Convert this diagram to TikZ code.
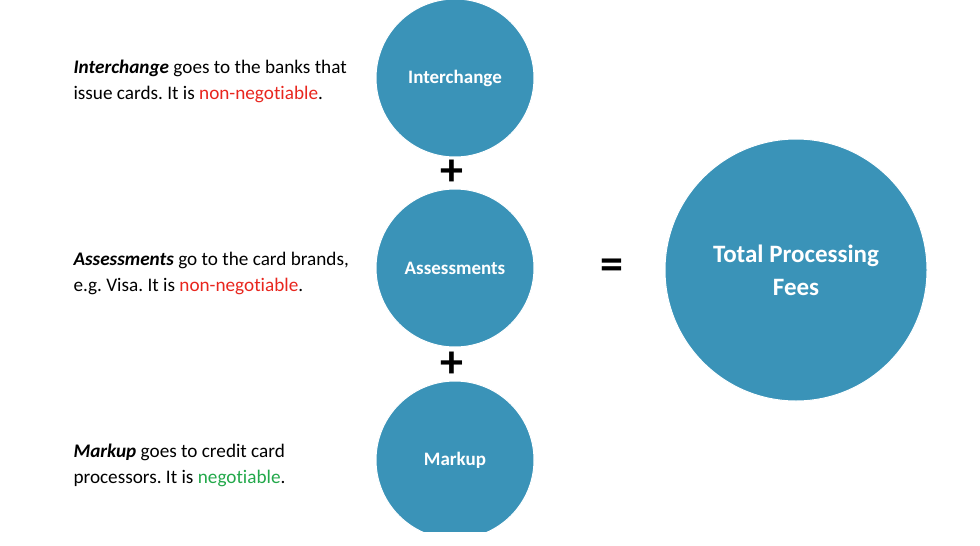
\documentclass[tikz,border=0pt]{standalone}
\usepackage{fontspec}
\setmainfont[Ligatures={NoCommon}]{Carlito}
\definecolor{feeblue}{HTML}{3A93B8}
\definecolor{feered}{HTML}{E8261E}
\definecolor{feegreen}{HTML}{22A84A}
\frenchspacing
\begin{document}
\begin{tikzpicture}[x=1pt,y=-1pt,
  fee/.style={circle, fill=feeblue, draw=white, line width=1pt, minimum size=158pt, text=white, font=\bfseries\fontsize{19}{21}\selectfont},
  note/.style={anchor=west, align=left, font=\fontsize{19.2}{26}\selectfont},
  sign/.style={font=\bfseries\fontsize{46}{46}\selectfont}]
  % Rahmen
  \useasboundingbox (0,0) rectangle (980,546);
  % Kreise
  \node[fee] (inter) at (455,78) {Interchange};
  \node[fee] (assess) at (455,268) {Assessments};
  \begin{scope}
    \clip (300,300) rectangle (600,531);
    \node[fee] (markup) at (455,460) {Markup};
  \end{scope}
  \node[fee, minimum size=262pt, align=center, font=\bfseries\fontsize{25}{33}\selectfont] (total) at (796,270) {Total Processing\\Fees};
  % Zeichen
  \node[sign] (plusa) at (452,173) {+};
  \node[sign] (plusb) at (452,365) {+};
  \node[sign] (equal) at (612,269) {=};
  % Beschriftungen
  \node[note] (tinter) at (70,81) {\textbf{\textit{Interchange}} goes to the banks that\\issue cards. It is \textcolor{feered}{non-negotiable}.};
  \node[note] (tassess) at (70,273) {\textbf{\textit{Assessments}} go to the card brands,\\e.g. Visa. It is \textcolor{feered}{non-negotiable}.};
  \node[note] (tmarkup) at (70,465) {\textbf{\textit{Markup}} goes to credit card\\processors. It is \textcolor{feegreen}{negotiable}.};
\end{tikzpicture}
\end{document}
